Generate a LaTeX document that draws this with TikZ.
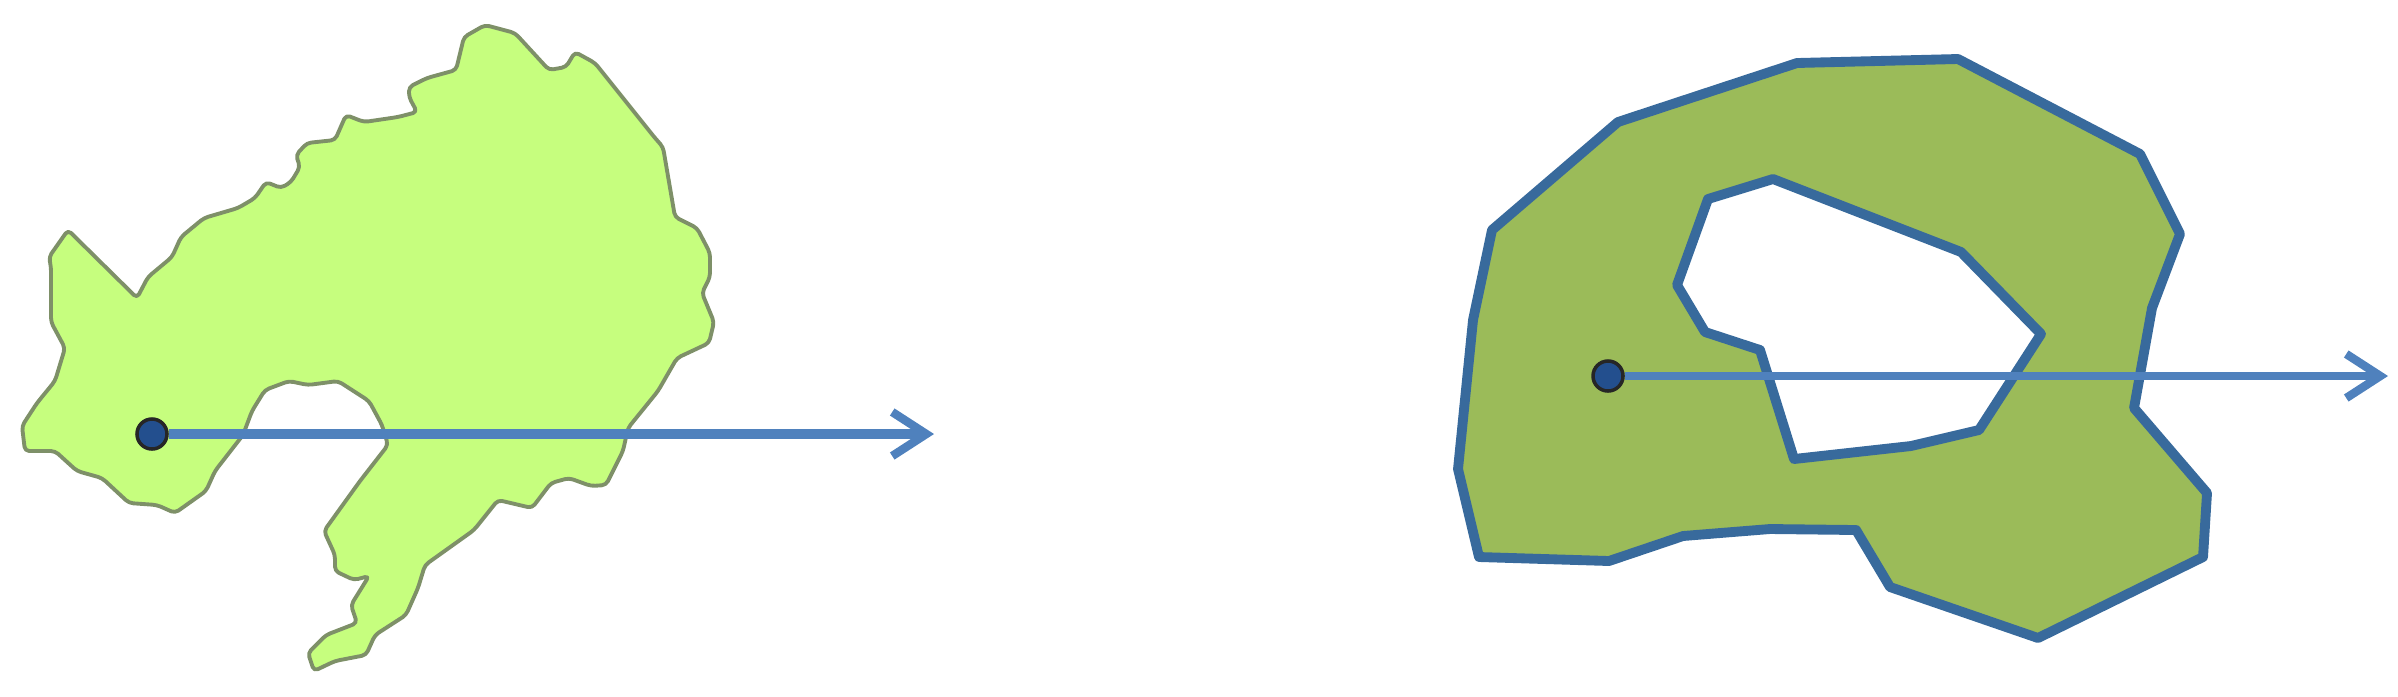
\documentclass[tikz,border=0pt]{standalone}
\usepackage{xcolor}
\usepackage{tikz}
\usetikzlibrary{arrows.meta}

\definecolor{landfill}{HTML}{C6FE7E}
\definecolor{landline}{HTML}{7E9068}
\definecolor{ringfill}{HTML}{9BBB59}
\definecolor{ringline}{HTML}{386A9C}
\definecolor{rayline}{HTML}{4F81BD}
\definecolor{dotfill}{HTML}{234F8E}

\tikzset{
	testpoint/.style={circle, draw=black!85, line width=1pt, fill=dotfill, minimum size=0.3cm, inner sep=0pt},
	ray/.style={draw=rayline, -{Straight Barb[length=3.4mm, width=4.4mm, line width=2.4pt]}},
}

\begin{document}
\begin{tikzpicture}[x=0.01cm, y=-0.01cm]
	\useasboundingbox (0,0) rectangle (2398,696);
	%
	\fill[landfill, draw=landline, line width=1.1pt, line join=round, rounded corners=1.2pt]
		(137,298) -- (148,277) -- (172,257) -- (181,237) -- (204,218) -- (238,208) -- (255,198) -- (266,182)
		-- (281,188) -- (291,182) -- (300,167) -- (296,155) -- (307,143) -- (335,140) -- (346,115) -- (364,122)
		-- (398,117) -- (417,112) -- (409,97) -- (409,87) -- (427,78) -- (456,70) -- (464,37) -- (485,25)
		-- (515,33) -- (549,70) -- (566,67) -- (575,52) -- (595,63) -- (655,138) -- (663,147) -- (675,217)
		-- (697,228) -- (710,253) -- (710,277) -- (702,293) -- (714,322) -- (709,343) -- (677,358) -- (658,391)
		-- (628,428) -- (623,451) -- (606,485) -- (591,486) -- (569,478) -- (551,483) -- (532,508) -- (498,500)
		-- (474,530) -- (425,565) -- (418,588) -- (406,615) -- (375,635) -- (366,655) -- (335,661) -- (314,671)
		-- (308,653) -- (326,635) -- (357,623) -- (351,605) -- (369,576) -- (354,580) -- (335,571) -- (335,555)
		-- (324,531) -- (360,481) -- (388,445) -- (382,425) -- (369,401) -- (338,381) -- (308,385) -- (289,381)
		-- (265,390) -- (252,411) -- (243,435) -- (215,471) -- (206,491) -- (175,513) -- (157,505) -- (129,503)
		-- (102,478) -- (77,471) -- (55,451) -- (25,451) -- (22,426) -- (37,403) -- (55,381) -- (65,348)
		-- (51,322) -- (51,267) -- (49,257) -- (68,230) -- cycle;
	%
	\fill[ringfill, draw=ringline, line width=2.8pt, line join=round, even odd rule]
		(1492,230) -- (1618,122) -- (1797,63) -- (1958,59) -- (2140,154) -- (2180,234) -- (2152,308) -- (2134,408)
		-- (2207,493) -- (2203,557) -- (2038,638) -- (1890,587) -- (1856,530) -- (1770,529) -- (1683,536)
		-- (1609,561) -- (1479,557) -- (1458,469) -- (1473,320) -- cycle
		(1677,285) -- (1708,199) -- (1773,179) -- (1961,252) -- (2041,334) -- (1979,430) -- (1911,446)
		-- (1794,459) -- (1760,350) -- (1705,332) -- cycle;
	%
	\node[testpoint] (pointA) at (152,434) {};
	\coordinate (endA) at (934,434);
	\draw[ray, line width=3pt] (pointA) -- (endA);
	%
	\node[testpoint] (pointB) at (1608,376) {};
	\coordinate (endB) at (2388,376);
	\draw[ray, line width=2.4pt] (pointB) -- (endB);
\end{tikzpicture}
\end{document}
